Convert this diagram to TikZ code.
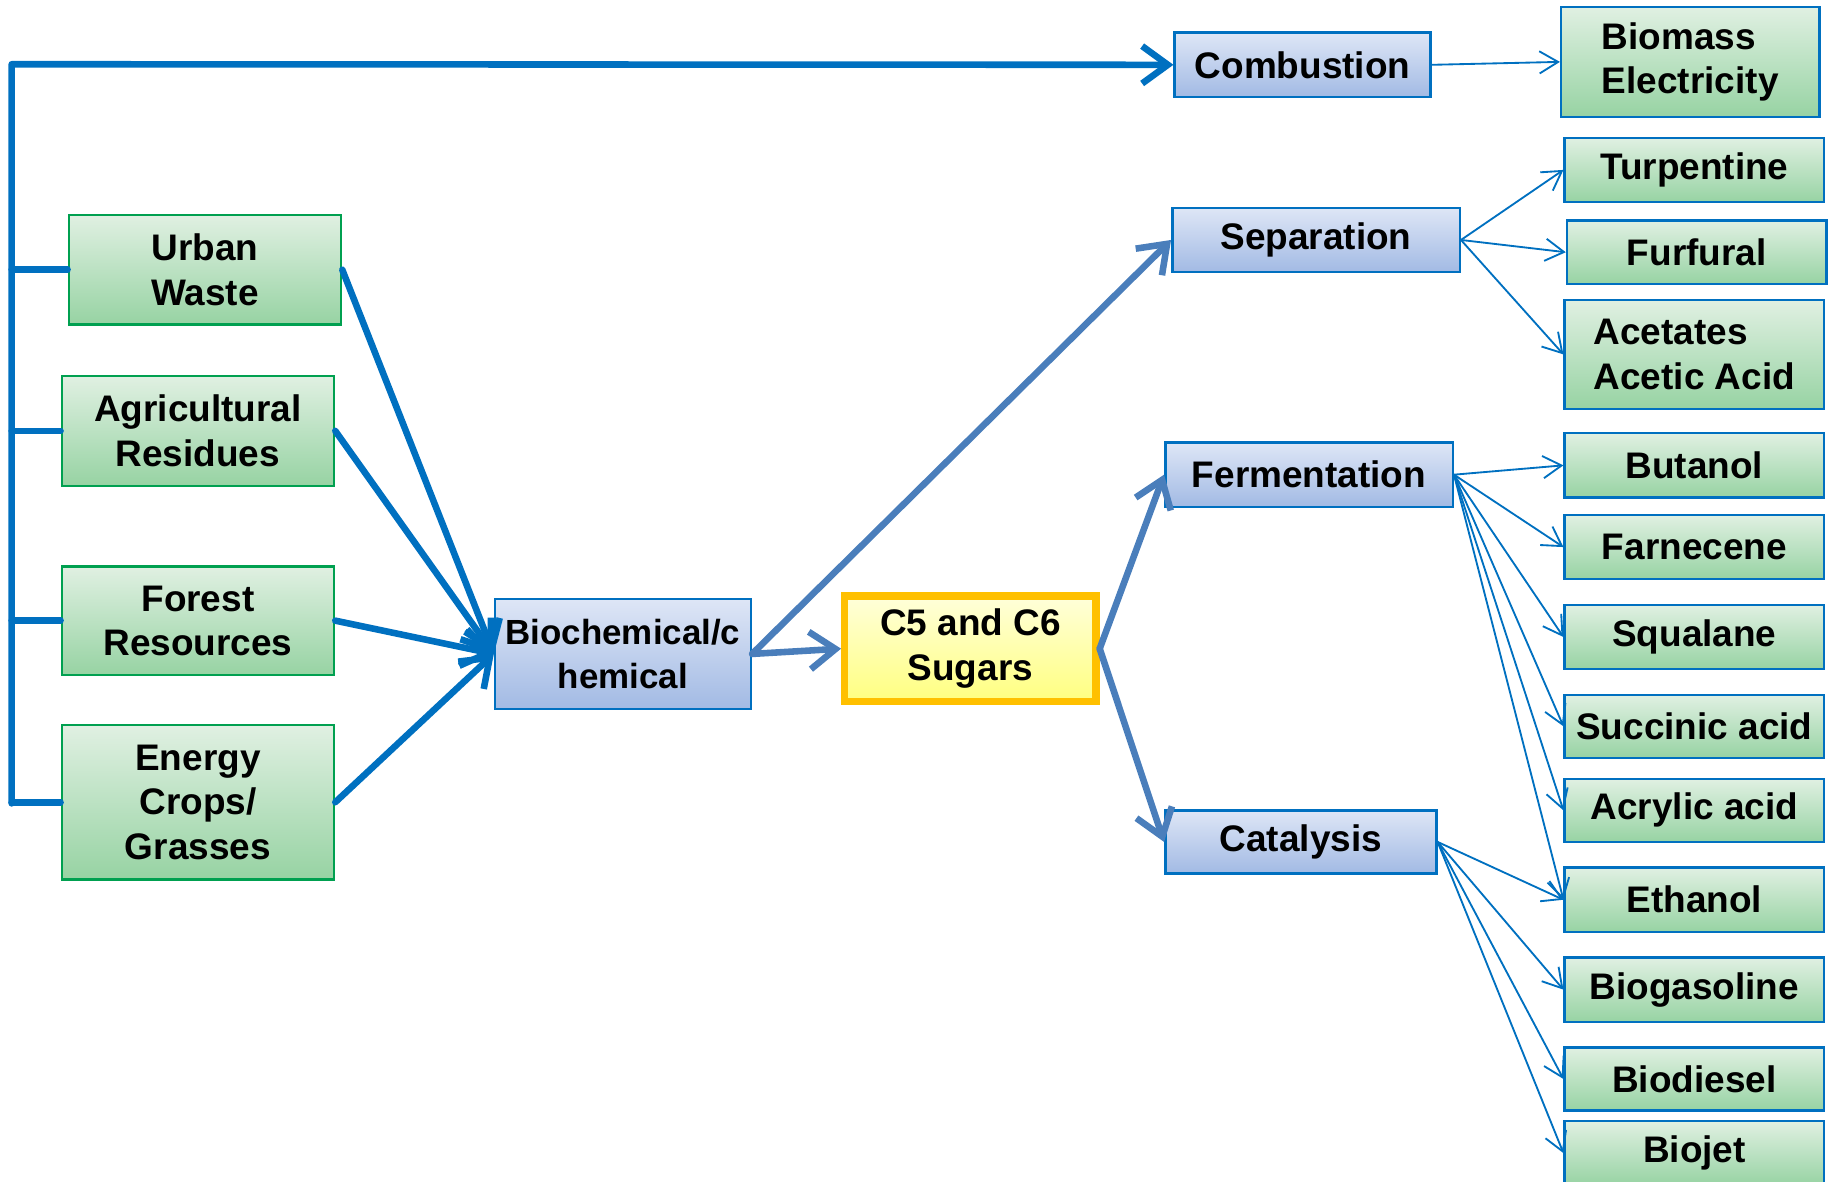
\documentclass[tikz,border=0pt]{standalone}
\usepackage{fontspec}
\setmainfont{Liberation Sans}
\usetikzlibrary{arrows.meta, positioning}

\definecolor{linkblue}{HTML}{0070C0}
\definecolor{steelblue}{HTML}{4A7EBB}
\definecolor{srcgreen}{HTML}{00A050}
\definecolor{greentop}{HTML}{E0F0E2}
\definecolor{greenbot}{HTML}{97D3A3}
\definecolor{bluetop}{HTML}{DEE6F6}
\definecolor{bluebot}{HTML}{A2BAE4}
\definecolor{sugartop}{HTML}{FFFFDA}
\definecolor{sugarbot}{HTML}{FFFF80}
\definecolor{sugarline}{HTML}{FFC000}

\tikzset{
  box/.style={draw, line width=0.6pt, inner sep=0pt, align=center,
    font=\bfseries\fontsize{9}{10.8}\selectfont},
  source/.style={box, draw=srcgreen, top color=greentop, bottom color=greenbot,
    minimum width=2.33cm},
  product/.style={box, draw=linkblue, top color=greentop, bottom color=greenbot,
    minimum width=2.22cm, minimum height=0.55cm},
  process/.style={box, draw=linkblue, top color=bluetop, bottom color=bluebot,
    minimum height=0.55cm},
  sugarbox/.style={box, line width=1.8pt, draw=sugarline, top color=sugartop,
    bottom color=sugarbot, minimum width=2.15cm, minimum height=0.90cm},
  feed/.style={line width=1.6pt, draw=linkblue, line cap=round, line join=round},
  feedarrow/.style={feed, -{Straight Barb[length=2.2mm, width=3.2mm]}},
  route/.style={line width=1.6pt, draw=steelblue, line cap=round,
    -{Straight Barb[length=2.2mm, width=3.2mm]}},
  yield/.style={line width=0.45pt, draw=linkblue,
    -{Straight Barb[length=1.6mm, width=1.9mm]}}
}

\begin{document}
\begin{tikzpicture}[x=0.01cm, y=-0.01cm]
\useasboundingbox (0,0) rectangle (1568,1012);

% Feedstocks
\node [source, minimum height=0.94cm] (urban) at (175.5,231) {Urban\\Waste};
\node [source, minimum height=0.94cm] (agri) at (169.5,369) {Agricultural\\Residues};
\node [source, minimum height=0.93cm] (forest) at (169.5,531.5) {Forest\\Resources};
\node [source, minimum height=1.32cm] (energy) at (169.5,687) {Energy\\Crops/\\Grasses};

% Conversion
\node [process, minimum width=2.19cm, minimum height=0.94cm,
  font=\bfseries\fontsize{8.5}{10.8}\selectfont] (bio) at (533.5,560) {Biochemical/c\\hemical};
\node [sugarbox] (sugar) at (831,555.5) {C5 and C6\\Sugars};

\node [process, minimum width=2.19cm] (comb) at (1115.5,55.5) {Combustion};
\node [process, minimum width=2.46cm] (sep) at (1127,205.5) {Separation};
\node [process, minimum width=2.46cm] (ferm) at (1121,406.5) {Fermentation};
\node [process, minimum width=2.32cm, minimum height=0.54cm] (cata) at (1114,721) {Catalysis};

% Products
\node [product, minimum width=2.21cm, minimum height=0.94cm, align=left] (elec) at (1447.5,53) {Biomass\\Electricity};
\node [product] (turp) at (1451,145.5) {Turpentine};
\node [product, minimum height=0.54cm] (furf) at (1453,216) {Furfural};
\node [product, minimum height=0.93cm, align=left] (acet) at (1451,303.5) {Acetates\\Acetic Acid};
\node [product] (buta) at (1451,398.5) {Butanol};
\node [product] (farn) at (1451,468.5) {Farnecene};
\node [product] (squa) at (1451,545.5) {Squalane};
\node [product, minimum height=0.54cm] (succ) at (1451,622) {Succinic acid};
\node [product, minimum height=0.54cm] (acry) at (1451,694) {Acrylic acid};
\node [product] (etha) at (1451,770.5) {Ethanol};
\node [product] (gaso) at (1451,847.5) {Biogasoline};
\node [product, minimum height=0.54cm] (dies) at (1451,924) {Biodiesel};
\node [product] (jet) at (1451,987.5) {Biojet};

% Feed line on the left
\coordinate (bustop) at (10,55);
\coordinate (busbot) at (10,688);
\draw [feedarrow] (busbot) -- (bustop) -- (comb.west);
\draw [feed] (urban.west) -- (urban.west -| bustop);
\draw [feed] (agri.west) -- (agri.west -| bustop);
\draw [feed] (forest.west) -- (forest.west -| bustop);
\draw [feed] (energy.west) -- (energy.west -| bustop);

\draw [feedarrow] (urban.east) -- (bio.west);
\draw [feedarrow] (agri.east) -- (bio.west);
\draw [feedarrow] (forest.east) -- (bio.west);
\draw [feedarrow] (energy.east) -- (bio.west);

% Routes
\draw [route] (bio.east) -- (sugar.west);
\draw [route] (bio.east) -- (sep.west);
\draw [route] (sugar.east) -- (ferm.west);
\draw [route] (sugar.east) -- (cata.west);

% Outputs
\draw [yield] (comb.east) -- (elec.west);
\draw [yield] (sep.east) -- (turp.west);
\draw [yield] (sep.east) -- (furf.west);
\draw [yield] (sep.east) -- (acet.west);
\draw [yield] (ferm.east) -- (buta.west);
\draw [yield] (ferm.east) -- (farn.west);
\draw [yield] (ferm.east) -- (squa.west);
\draw [yield] (ferm.east) -- (succ.west);
\draw [yield] (ferm.east) -- (acry.west);
\draw [yield] (ferm.east) -- (etha.west);
\draw [yield] (cata.east) -- (etha.west);
\draw [yield] (cata.east) -- (gaso.west);
\draw [yield] (cata.east) -- (dies.west);
\draw [yield] (cata.east) -- (jet.west);

\end{tikzpicture}
\end{document}
